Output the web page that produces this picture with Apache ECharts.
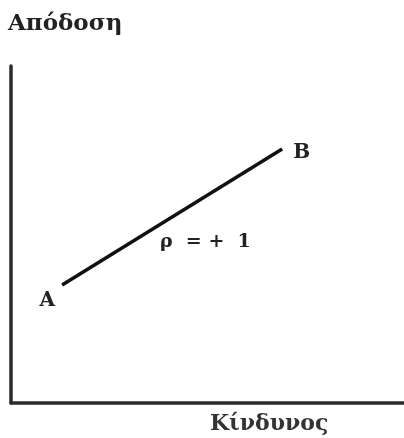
<!DOCTYPE html>
<html>
<head>
<meta charset="utf-8">
<script src="https://cdn.jsdelivr.net/npm/echarts@6/dist/echarts.min.js"></script>
<style>
  html, body { margin: 0; padding: 0; background: #fff; }
  #chart { width: 404px; height: 438px; }
</style>
</head>
<body>
<div id="chart"></div>
<script>
// Risk / return line for two assets with perfect positive correlation
const pointNames = ['A', 'B'];
const riskValues = [13, 69];      // horizontal position (Κίνδυνος)
const returnValues = [35, 75.4];  // vertical position (Απόδοση)
const correlationLabel = 'ρ  = +  1';
const xAxisTitle = 'Κίνδυνος';
const yAxisTitle = 'Απόδοση';

const ink = '#2a2d2d';
const serif = '"DejaVu Serif", "Liberation Serif", serif';

const lineData = pointNames.map((name, i) => ({
  name: name,
  value: [riskValues[i], returnValues[i]],
  label: i === 0
    ? { show: true, position: 'left', offset: [-2, 16] }
    : { show: true, position: 'right', offset: [6, 4] }
}));

const chart = echarts.init(document.getElementById('chart'), null, { renderer: 'canvas' });
chart.setOption({
  animation: false,
  backgroundColor: '#fff',
  grid: { left: 11, top: 66, right: 0, bottom: 35, containLabel: false },
  xAxis: {
    type: 'value', min: 0, max: 100,
    axisLine: { show: true, lineStyle: { color: ink, width: 3.5 } },
    axisTick: { show: false }, axisLabel: { show: false }, splitLine: { show: false }
  },
  yAxis: {
    type: 'value', min: 0, max: 100,
    axisLine: { show: true, lineStyle: { color: ink, width: 3.5 } },
    axisTick: { show: false }, axisLabel: { show: false }, splitLine: { show: false }
  },
  series: [{
    type: 'line',
    data: lineData,
    symbol: 'circle',
    symbolSize: 0,
    showSymbol: true,
    itemStyle: { color: '#111' },
    lineStyle: { color: '#111', width: 3.5 },
    label: {
      formatter: p => p.name,
      color: '#222', fontFamily: serif, fontWeight: 'bold', fontSize: 20
    }
  }],
  graphic: [
    {
      type: 'text', left: 8, top: 13,
      style: { text: yAxisTitle, fill: '#222', font: 'bold 23px ' + serif }
    },
    {
      type: 'text', left: 210, top: 413,
      style: { text: xAxisTitle, fill: '#333', font: 'bold 22px ' + serif }
    },
    {
      type: 'text', left: 160, top: 233,
      style: { text: correlationLabel, fill: '#222', font: 'bold 19px ' + serif }
    }
  ]
});
</script>
</body>
</html>
